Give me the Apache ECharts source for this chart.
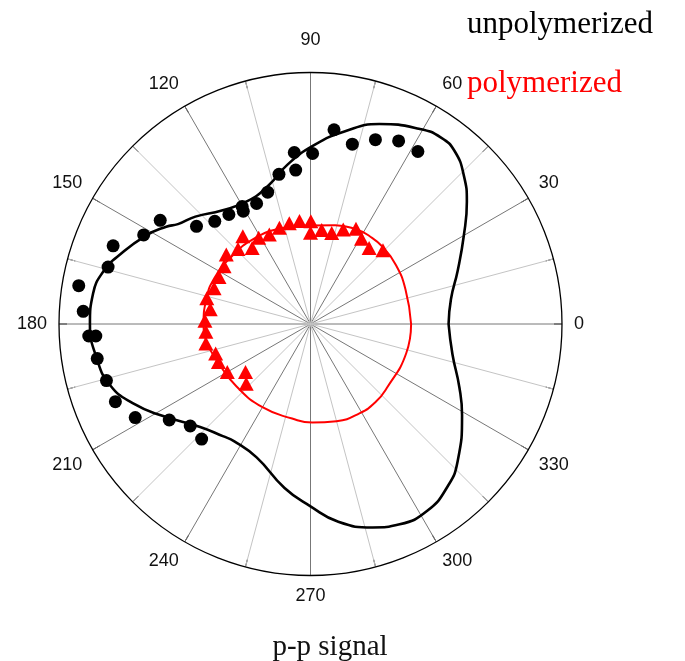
<!DOCTYPE html>
<html>
<head>
<meta charset="utf-8">
<script src="https://cdn.jsdelivr.net/npm/echarts@6.0.0/dist/echarts.min.js"></script>
<style>
html,body{margin:0;padding:0;background:#fff;}
#chart{width:685px;height:661px;}
</style>
</head>
<body>
<div id="chart"></div>
<script>
// ---- data (angle in degrees, radius normalised to outer circle) ----
const angleLabels = [0, 30, 60, 90, 120, 150, 180, 210, 240, 270, 300, 330];

const unpolyFitAngle = [0, 10, 20, 30, 38, 44, 50, 55, 61, 71, 80, 89, 98, 107, 117, 128, 137, 143, 146, 152, 161, 165, 172, 180, 189, 197, 204, 212, 223, 232, 237, 248, 261, 270, 278, 287, 294, 302, 310, 317, 329, 337, 348, 360];
const unpolyFitR     = [0.549, 0.567, 0.623, 0.704, 0.789, 0.848, 0.894, 0.905, 0.888, 0.841, 0.777, 0.710, 0.642, 0.575, 0.549, 0.573, 0.626, 0.660, 0.692, 0.745, 0.815, 0.846, 0.873, 0.877, 0.861, 0.833, 0.774, 0.691, 0.600, 0.566, 0.556, 0.572, 0.660, 0.725, 0.794, 0.846, 0.872, 0.876, 0.846, 0.800, 0.703, 0.643, 0.577, 0.549];

const unpolyPtsAngle = [58.1, 64.3, 70.6, 76.9, 83.1, 89.3, 95.4, 95.5, 101.9, 108, 114.1, 120.2, 120.8, 126.7, 133, 139.4, 145.4, 151.9, 158.4, 164.3, 170.6, 176.8, 183.1, 183.2, 189.2, 195.5, 201.7, 208.1, 214.2, 220.3, 226.6];
const unpolyPtsR     = [0.808, 0.808, 0.777, 0.734, 0.778, 0.678, 0.685, 0.615, 0.608, 0.551, 0.525, 0.540, 0.522, 0.543, 0.558, 0.597, 0.726, 0.752, 0.844, 0.836, 0.934, 0.905, 0.883, 0.855, 0.859, 0.842, 0.835, 0.790, 0.679, 0.627, 0.630];

const polyFitAngle = [0, 20, 35, 47, 56, 64, 76, 90, 108, 124, 140, 154, 167, 180, 189, 203, 220, 240, 259, 271, 285, 299, 310, 320, 343, 360];
const polyFitR     = [0.400, 0.402, 0.413, 0.420, 0.421, 0.418, 0.405, 0.392, 0.398, 0.407, 0.413, 0.423, 0.426, 0.425, 0.420, 0.397, 0.385, 0.382, 0.383, 0.392, 0.400, 0.405, 0.404, 0.396, 0.398, 0.400];

const polyPtsAngle = [45.5, 52.4, 59.1, 64.5, 70.9, 76.9, 83.2, 89.8, 90, 96.1, 101.9, 107.9, 114.7, 121, 127.6, 127.5, 134, 140.5, 146.3, 152.8, 159.6, 166, 171.6, 178.2, 184.2, 190.5, 197.3, 202.4, 210, 216.4, 222.9];
const polyPtsR     = [0.411, 0.382, 0.395, 0.420, 0.398, 0.372, 0.376, 0.409, 0.363, 0.412, 0.409, 0.402, 0.392, 0.400, 0.441, 0.381, 0.415, 0.434, 0.413, 0.409, 0.409, 0.425, 0.403, 0.420, 0.417, 0.423, 0.395, 0.396, 0.382, 0.321, 0.349];

const seriesNames = ['unpolymerized', 'polymerized'];
const axisTitle = 'p-p signal';

// ---- build chart ----
function pairs(angles, radii) { return angles.map((a, i) => [radii[i], a]); }

const labelFont = { fontSize: 18, fontFamily: 'Liberation Sans, Arial, sans-serif', color: '#111' };

const chart = echarts.init(document.getElementById('chart'), null, { renderer: 'canvas' });
chart.setOption({
  animation: false,
  backgroundColor: '#fff',
  title: {
    text: axisTitle,
    left: 325,
    textAlign: 'center',
    top: 628,
    textStyle: { fontFamily: 'Liberation Serif, Times New Roman, serif', fontSize: 29, fontWeight: 'normal', color: '#111' }
  },
  legend: {
    orient: 'vertical',
    left: 457,
    top: 4,
    itemGap: 28,
    itemWidth: 0,
    itemHeight: 14,
    icon: 'none',
    selectedMode: false,
    textStyle: { fontFamily: 'Liberation Serif, Times New Roman, serif', fontSize: 31 },
    data: [
      { name: seriesNames[0], icon: 'none', textStyle: { color: '#000' } },
      { name: seriesNames[1], icon: 'none', textStyle: { color: '#ff0000' } }
    ]
  },
  polar: { center: [310.5, 324], radius: 251.5 },
  radiusAxis: {
    min: 0, max: 1, show: false,
    axisLine: { show: false }, splitLine: { show: false }, axisTick: { show: false }, axisLabel: { show: false }
  },
  angleAxis: {
    type: 'value', min: 0, max: 360, interval: 15,
    startAngle: 0, clockwise: false,
    axisLine: { show: true, lineStyle: { color: '#000', width: 1.3 } },
    axisTick: { show: true, inside: true, length: 8, lineStyle: { color: '#111', width: 1 } },
    splitLine: { show: true, lineStyle: { color: ['#777', '#c4c4c4'], width: 1 } },
    axisLabel: Object.assign({
      margin: 12,
      formatter: function (v) {
        if (v === 360 || angleLabels.indexOf(v) < 0) return '';
        if (v === 90) return '{top|90}';
        if (v === 60 || v === 120) return '{up|' + v + '}';
        return String(v);
      },
      rich: {
        top: Object.assign({ padding: [0, 0, 11, 0] }, labelFont),
        up: Object.assign({ padding: [0, 0, 3, 0] }, labelFont)
      }
    }, labelFont)
  },
  series: [
    {
      name: seriesNames[0], type: 'line', coordinateSystem: 'polar',
      data: pairs(unpolyFitAngle, unpolyFitR), smooth: 0.5, showSymbol: false, symbol: 'none',
      lineStyle: { color: '#000', width: 2.6 }, itemStyle: { color: '#000' }, z: 3
    },
    {
      name: seriesNames[1], type: 'line', coordinateSystem: 'polar',
      data: pairs(polyFitAngle, polyFitR), smooth: 0.5, showSymbol: false, symbol: 'none',
      lineStyle: { color: '#ff0000', width: 2 }, itemStyle: { color: '#ff0000' }, z: 3
    },
    {
      name: seriesNames[0], type: 'scatter', coordinateSystem: 'polar',
      data: pairs(unpolyPtsAngle, unpolyPtsR), symbol: 'circle', symbolSize: 13,
      itemStyle: { color: '#000', opacity: 1 }, z: 4
    },
    {
      name: seriesNames[1], type: 'scatter', coordinateSystem: 'polar',
      data: pairs(polyPtsAngle, polyPtsR), symbol: 'triangle', symbolSize: [15, 14],
      itemStyle: { color: '#ff0000', opacity: 1 }, z: 4
    }
  ]
});
</script>
</body>
</html>
